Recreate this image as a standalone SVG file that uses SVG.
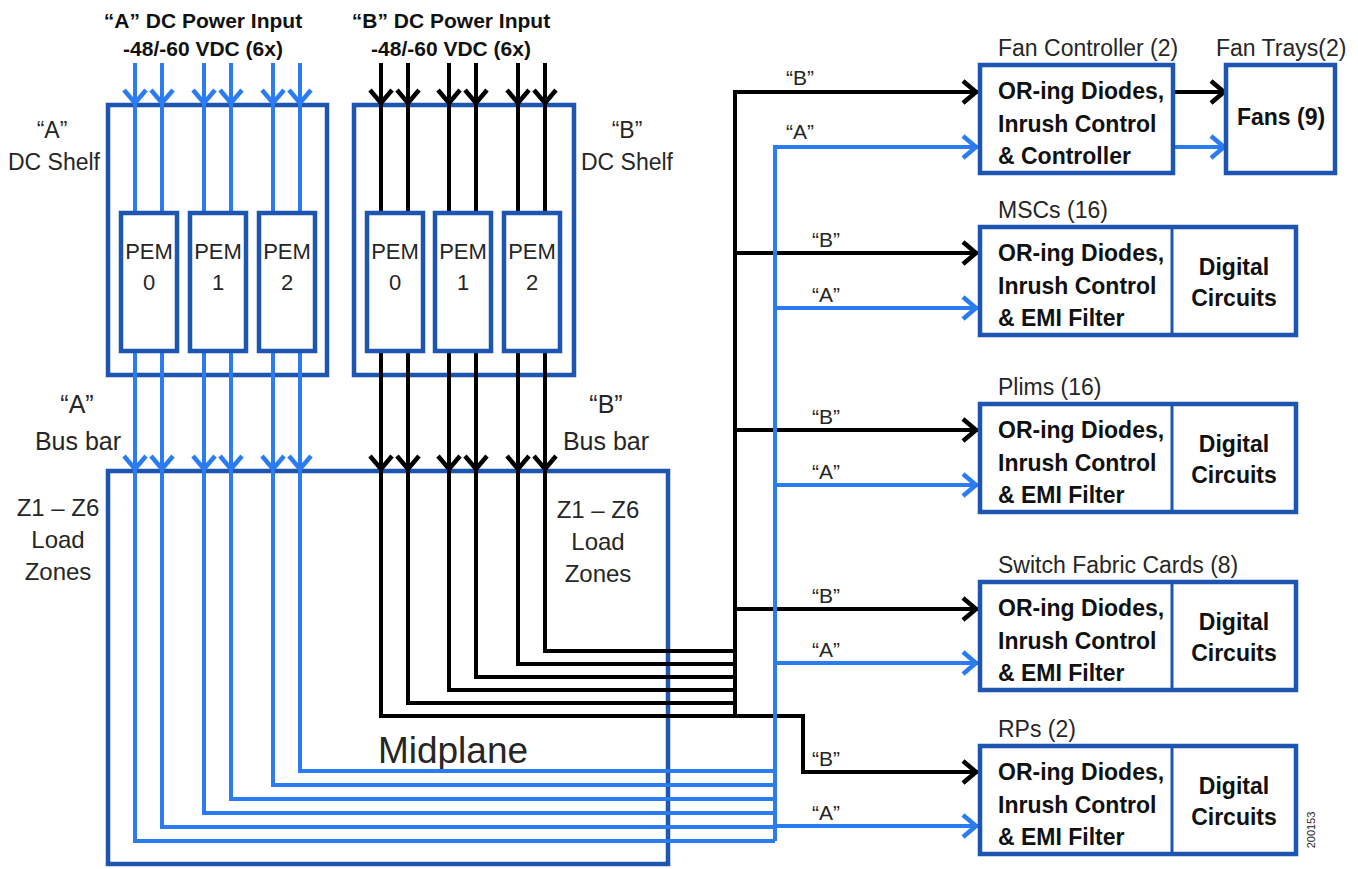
<svg xmlns="http://www.w3.org/2000/svg" width="1358" height="869" viewBox="0 0 1358 869">
<defs>
<style>
.box{fill:#fff;stroke:#1E55B0;stroke-width:4.5}
.frame{fill:none;stroke:#1E55B0;stroke-width:4.5}
.dv{stroke:#1E55B0;stroke-width:3}
.bl{fill:none;stroke:#2B7CF2;stroke-width:4}
.bk{fill:none;stroke:#000;stroke-width:4}
text{font-family:"Liberation Sans",Arial,sans-serif;fill:#262626}
.hd{font-weight:bold;font-size:21px;fill:#111;text-anchor:middle}
.lb{font-size:23px}
.lbc{font-size:23px;text-anchor:middle}
.bus{font-size:25px;text-anchor:middle}
.z{font-size:24px;text-anchor:middle}
.pem{font-size:22px;text-anchor:middle}
.q{font-size:21px;text-anchor:middle}
.bx{font-weight:bold;font-size:23px;fill:#111}
.bxc{font-weight:bold;font-size:23px;fill:#111;text-anchor:middle}
</style>
<marker id="ab" markerUnits="userSpaceOnUse" viewBox="0 0 30 30" markerWidth="30" markerHeight="30" refX="25" refY="15" orient="auto" overflow="visible"><path d="M10,4 L23,15 L10,26" fill="none" stroke="#2B7CF2" stroke-width="4.5"/></marker>
<marker id="ak" markerUnits="userSpaceOnUse" viewBox="0 0 30 30" markerWidth="30" markerHeight="30" refX="25" refY="15" orient="auto" overflow="visible"><path d="M10,4 L23,15 L10,26" fill="none" stroke="#000" stroke-width="4.5"/></marker>
</defs>
<rect width="1358" height="869" fill="#fff"/>

<!-- headers -->
<g id="hdrA">
<text class="hd" x="203" y="28">“A” DC Power Input</text>
<text class="hd" x="203" y="56">-48/-60 VDC (6x)</text>
</g>
<g id="hdrB">
<text class="hd" x="451" y="28">“B” DC Power Input</text>
<text class="hd" x="451" y="56">-48/-60 VDC (6x)</text>
</g>

<!-- shelves and midplane -->
<g id="shelfA">
<rect class="frame" x="108" y="105" width="219" height="270"/>
<text class="lbc" x="52" y="138">“A”</text>
<text class="lbc" x="54" y="170">DC Shelf</text>
</g>
<g id="shelfB">
<rect class="frame" x="354" y="105" width="220" height="270"/>
<text class="lbc" x="627" y="138">“B”</text>
<text class="lbc" x="627" y="170">DC Shelf</text>
</g>
<g id="busbarA">
<text class="bus" x="77" y="413">“A”</text>
<text class="bus" x="78" y="450">Bus bar</text>
</g>
<g id="busbarB">
<text class="bus" x="606" y="413">“B”</text>
<text class="bus" x="606" y="450">Bus bar</text>
</g>
<g id="midplane">
<rect class="frame" x="108" y="471" width="560" height="393"/>
<text class="z" x="58" y="516">Z1 – Z6</text>
<text class="z" x="58" y="548">Load</text>
<text class="z" x="58" y="580">Zones</text>
<text class="z" x="598" y="518">Z1 – Z6</text>
<text class="z" x="598" y="550">Load</text>
<text class="z" x="598" y="582">Zones</text>
<text x="453" y="763" font-size="37" text-anchor="middle">Midplane</text>
</g>

<!-- connectors -->
<g id="connectors">
<!-- A inputs -->
<path class="bl" d="M135 63V105" marker-end="url(#ab)"/><path class="bl" d="M135 105V213"/>
<path class="bl" d="M162 63V105" marker-end="url(#ab)"/><path class="bl" d="M162 105V213"/>
<path class="bl" d="M204 63V105" marker-end="url(#ab)"/><path class="bl" d="M204 105V213"/>
<path class="bl" d="M231 63V105" marker-end="url(#ab)"/><path class="bl" d="M231 105V213"/>
<path class="bl" d="M273 63V105" marker-end="url(#ab)"/><path class="bl" d="M273 105V213"/>
<path class="bl" d="M300 63V105" marker-end="url(#ab)"/><path class="bl" d="M300 105V213"/>
<!-- B inputs -->
<path class="bk" d="M381 63V105" marker-end="url(#ak)"/><path class="bk" d="M381 105V213"/>
<path class="bk" d="M408 63V105" marker-end="url(#ak)"/><path class="bk" d="M408 105V213"/>
<path class="bk" d="M449 63V105" marker-end="url(#ak)"/><path class="bk" d="M449 105V213"/>
<path class="bk" d="M476 63V105" marker-end="url(#ak)"/><path class="bk" d="M476 105V213"/>
<path class="bk" d="M518 63V105" marker-end="url(#ak)"/><path class="bk" d="M518 105V213"/>
<path class="bk" d="M545 63V105" marker-end="url(#ak)"/><path class="bk" d="M545 105V213"/>
<!-- A bus bar -->
<path class="bl" d="M135 351V471" marker-end="url(#ab)"/>
<path class="bl" d="M162 351V471" marker-end="url(#ab)"/>
<path class="bl" d="M204 351V471" marker-end="url(#ab)"/>
<path class="bl" d="M231 351V471" marker-end="url(#ab)"/>
<path class="bl" d="M273 351V471" marker-end="url(#ab)"/>
<path class="bl" d="M300 351V471" marker-end="url(#ab)"/>
<!-- B bus bar -->
<path class="bk" d="M381 351V471" marker-end="url(#ak)"/>
<path class="bk" d="M408 351V471" marker-end="url(#ak)"/>
<path class="bk" d="M449 351V471" marker-end="url(#ak)"/>
<path class="bk" d="M476 351V471" marker-end="url(#ak)"/>
<path class="bk" d="M518 351V471" marker-end="url(#ak)"/>
<path class="bk" d="M545 351V471" marker-end="url(#ak)"/>
<!-- midplane A runs -->
<path class="bl" d="M300 471V771H775"/>
<path class="bl" d="M273 471V785H775"/>
<path class="bl" d="M231 471V799H775"/>
<path class="bl" d="M204 471V813H775"/>
<path class="bl" d="M162 471V827H775"/>
<path class="bl" d="M135 471V841H775"/>
<!-- midplane B runs -->
<path class="bk" d="M545 471V651H735"/>
<path class="bk" d="M518 471V664H735"/>
<path class="bk" d="M476 471V677H735"/>
<path class="bk" d="M449 471V690H735"/>
<path class="bk" d="M408 471V703H735"/>
<path class="bk" d="M381 471V716H803V772H978" marker-end="url(#ak)"/>
<!-- B distribution -->
<path class="bk" d="M735 716V92H978" marker-end="url(#ak)"/>
<path class="bk" d="M735 253H978" marker-end="url(#ak)"/>
<path class="bk" d="M735 430H978" marker-end="url(#ak)"/>
<path class="bk" d="M735 609H978" marker-end="url(#ak)"/>
<!-- A distribution -->
<path class="bl" d="M775 841V147H978" marker-end="url(#ab)"/>
<path class="bl" d="M775 308H978" marker-end="url(#ab)"/>
<path class="bl" d="M775 485H978" marker-end="url(#ab)"/>
<path class="bl" d="M775 663H978" marker-end="url(#ab)"/>
<path class="bl" d="M775 826H978" marker-end="url(#ab)"/>
<!-- fan controller to fan trays -->
<path class="bk" d="M1173 92H1226" marker-end="url(#ak)"/>
<path class="bl" d="M1173 147H1226" marker-end="url(#ab)"/>
<!-- feed labels -->
<text class="q" x="800" y="85">“B”</text>
<text class="q" x="800" y="139">“A”</text>
<text class="q" x="826" y="247">“B”</text>
<text class="q" x="826" y="302">“A”</text>
<text class="q" x="826" y="424">“B”</text>
<text class="q" x="826" y="479">“A”</text>
<text class="q" x="826" y="603">“B”</text>
<text class="q" x="826" y="657">“A”</text>
<text class="q" x="826" y="766">“B”</text>
<text class="q" x="826" y="820">“A”</text>
</g>

<!-- PEMs -->
<g id="pemA0"><rect class="box" x="121" y="213" width="56" height="138"/><text class="pem" x="149" y="259">PEM</text><text class="pem" x="149" y="290">0</text></g>
<g id="pemA1"><rect class="box" x="190" y="213" width="56" height="138"/><text class="pem" x="218" y="259">PEM</text><text class="pem" x="218" y="290">1</text></g>
<g id="pemA2"><rect class="box" x="259" y="213" width="56" height="138"/><text class="pem" x="287" y="259">PEM</text><text class="pem" x="287" y="290">2</text></g>
<g id="pemB0"><rect class="box" x="367" y="213" width="56" height="138"/><text class="pem" x="395" y="259">PEM</text><text class="pem" x="395" y="290">0</text></g>
<g id="pemB1"><rect class="box" x="435" y="213" width="56" height="138"/><text class="pem" x="463" y="259">PEM</text><text class="pem" x="463" y="290">1</text></g>
<g id="pemB2"><rect class="box" x="504" y="213" width="56" height="138"/><text class="pem" x="532" y="259">PEM</text><text class="pem" x="532" y="290">2</text></g>

<!-- right side loads -->
<g id="fanController">
<text class="lb" x="998" y="56">Fan Controller (2)</text>
<rect class="box" x="980" y="65" width="193" height="108"/>
<text class="bx" x="998" y="99">OR-ing Diodes,</text>
<text class="bx" x="998" y="132">Inrush Control</text>
<text class="bx" x="998" y="164">&amp; Controller</text>
</g>
<g id="fanTrays">
<text class="lb" x="1216" y="56">Fan Trays(2)</text>
<rect class="box" x="1226" y="65" width="109" height="108"/>
<text class="bxc" x="1281" y="125">Fans (9)</text>
</g>
<g id="mscs">
<text class="lb" x="998" y="218">MSCs (16)</text>
<rect class="box" x="980" y="227" width="316" height="108"/>
<line class="dv" x1="1172" y1="227" x2="1172" y2="335"/>
<text class="bx" x="998" y="261">OR-ing Diodes,</text>
<text class="bx" x="998" y="294">Inrush Control</text>
<text class="bx" x="998" y="326">&amp; EMI Filter</text>
<text class="bxc" x="1234" y="275">Digital</text>
<text class="bxc" x="1234" y="306">Circuits</text>
</g>
<g id="plims">
<text class="lb" x="998" y="395">Plims (16)</text>
<rect class="box" x="980" y="404" width="316" height="108"/>
<line class="dv" x1="1172" y1="404" x2="1172" y2="512"/>
<text class="bx" x="998" y="438">OR-ing Diodes,</text>
<text class="bx" x="998" y="471">Inrush Control</text>
<text class="bx" x="998" y="503">&amp; EMI Filter</text>
<text class="bxc" x="1234" y="452">Digital</text>
<text class="bxc" x="1234" y="483">Circuits</text>
</g>
<g id="sfc">
<text class="lb" x="998" y="573">Switch Fabric Cards (8)</text>
<rect class="box" x="980" y="582" width="316" height="108"/>
<line class="dv" x1="1172" y1="582" x2="1172" y2="690"/>
<text class="bx" x="998" y="616">OR-ing Diodes,</text>
<text class="bx" x="998" y="649">Inrush Control</text>
<text class="bx" x="998" y="681">&amp; EMI Filter</text>
<text class="bxc" x="1234" y="630">Digital</text>
<text class="bxc" x="1234" y="661">Circuits</text>
</g>
<g id="rps">
<text class="lb" x="998" y="737">RPs (2)</text>
<rect class="box" x="980" y="746" width="316" height="108"/>
<line class="dv" x1="1172" y1="746" x2="1172" y2="854"/>
<text class="bx" x="998" y="780">OR-ing Diodes,</text>
<text class="bx" x="998" y="813">Inrush Control</text>
<text class="bx" x="998" y="845">&amp; EMI Filter</text>
<text class="bxc" x="1234" y="794">Digital</text>
<text class="bxc" x="1234" y="825">Circuits</text>
</g>
<text x="1315" y="0" font-size="11" text-anchor="middle" transform="translate(1315,830) rotate(-90) translate(-1315,0)">200153</text>
</svg>
